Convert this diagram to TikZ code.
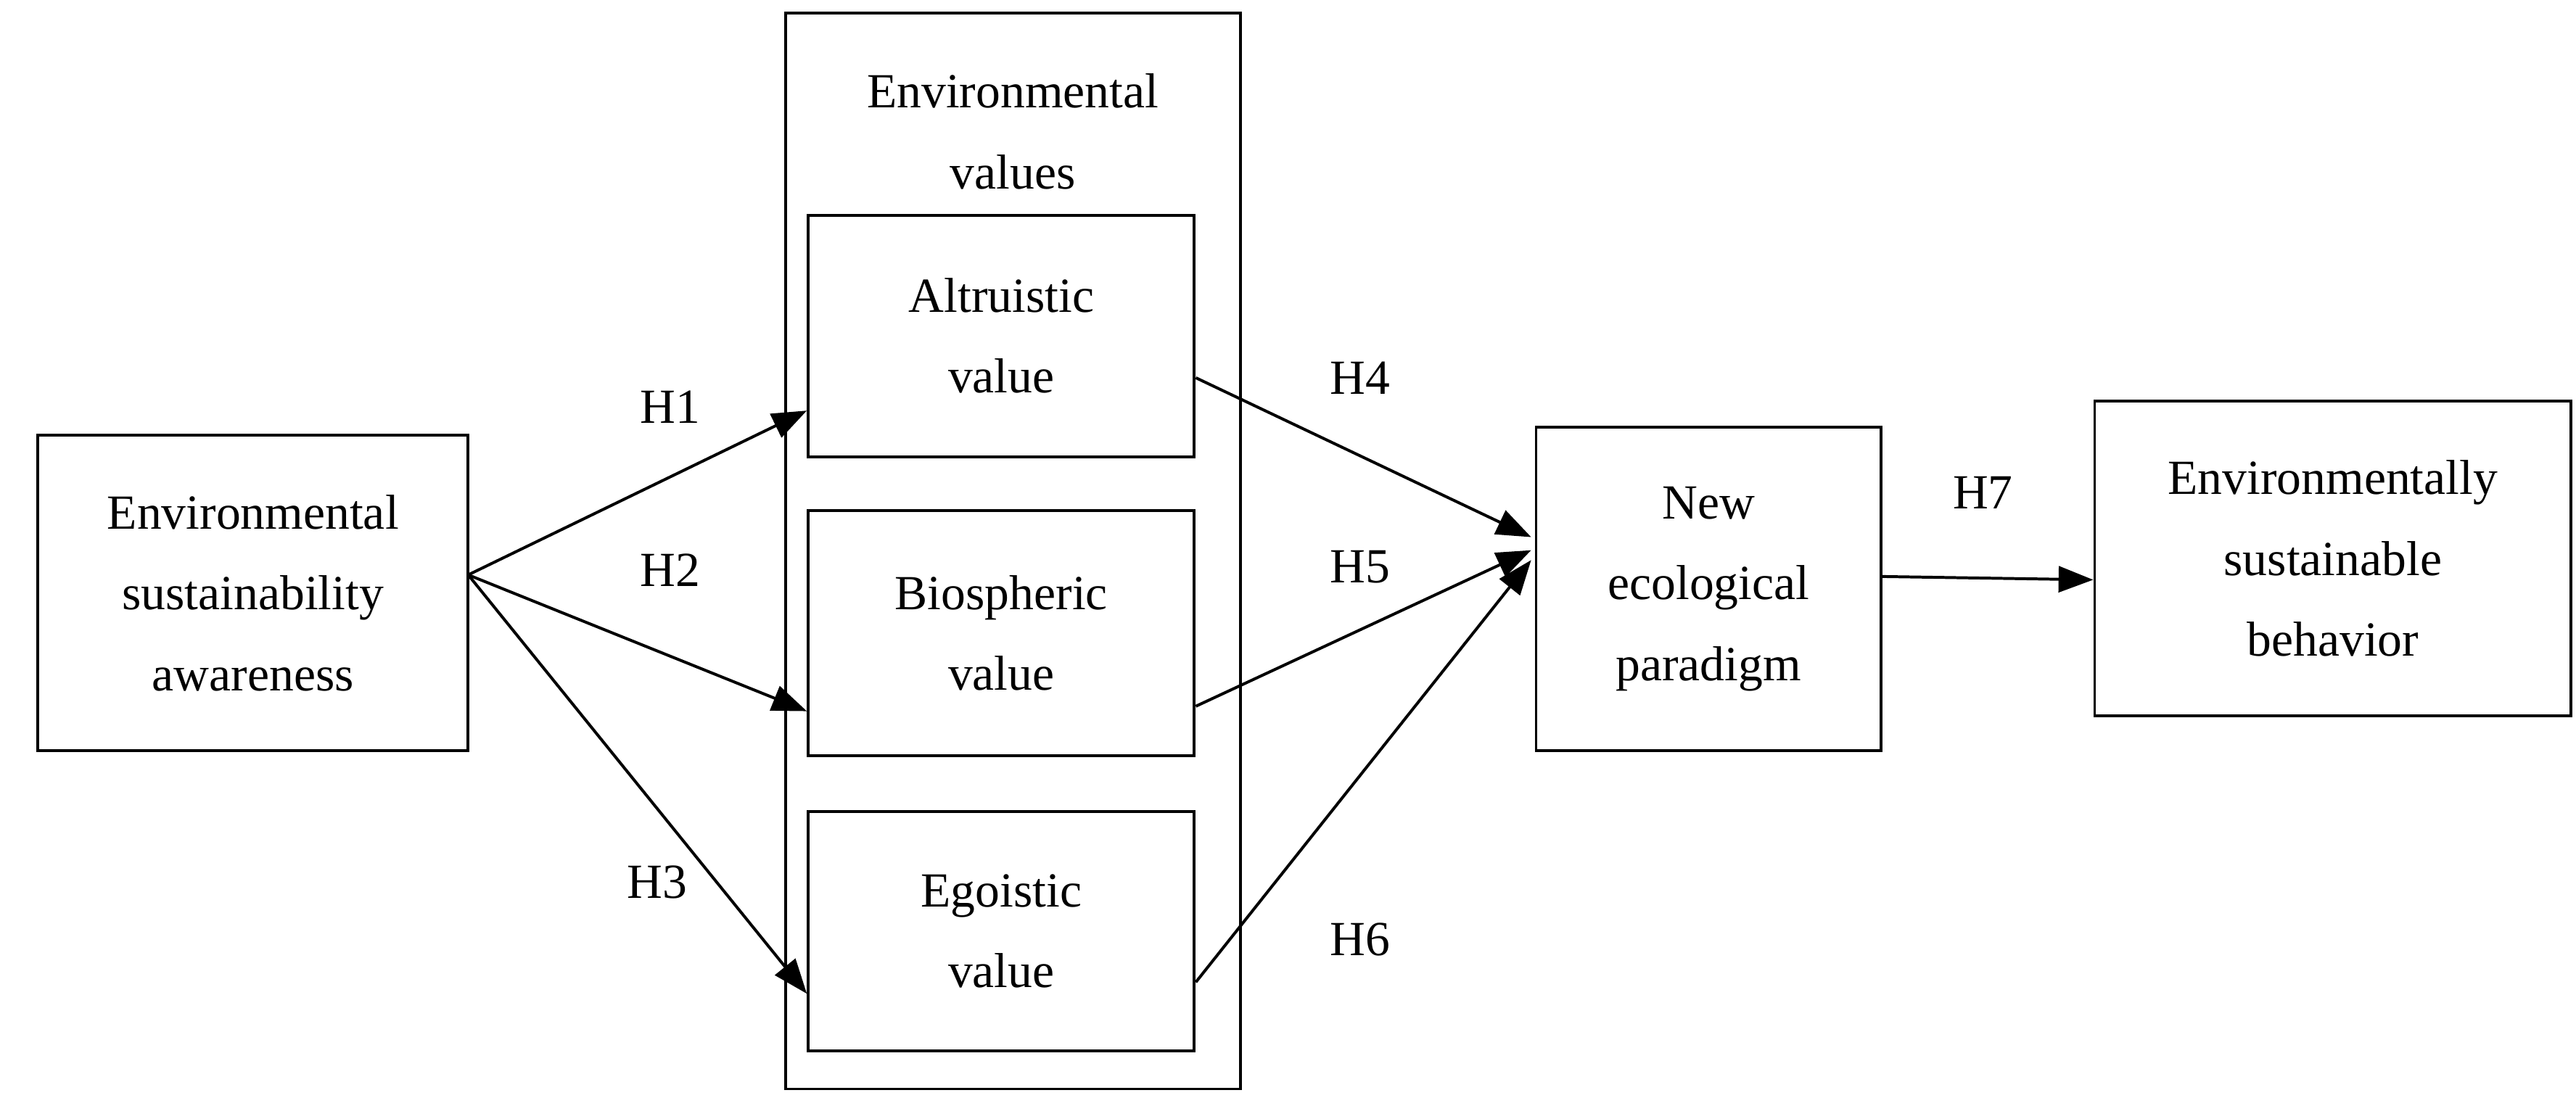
\documentclass[tikz,border=0pt]{standalone}
\usepackage{fontspec}
\setmainfont{Liberation Serif}
\usetikzlibrary{arrows.meta}
\begin{document}
\begin{tikzpicture}[x=0.02cm,y=-0.02cm,
  box/.style={draw,line width=1pt,inner sep=0pt,align=center,font=\fontsize{17}{28}\selectfont},
  lab/.style={font=\fontsize{17}{18}\selectfont},
  arr/.style={line width=1pt,-{Triangle[length=12pt,width=9pt]}}]
\useasboundingbox (0,0) rectangle (1568,673);
\draw[line width=1pt] (478,8) rectangle (755,663);
\node[lab] (ev) at (616.5,80) {\parbox{5cm}{\centering\fontsize{17}{28}\selectfont Environmental\\values}};
\node[box,minimum width=262*0.02cm,minimum height=192*0.02cm] (esa) at (154,361) {Environmental\\sustainability\\awareness};
\node[box,minimum width=235*0.02cm,minimum height=147*0.02cm] (alt) at (609.5,204.5) {Altruistic\\value};
\node[box,minimum width=235*0.02cm,minimum height=149*0.02cm] (bio) at (609.5,385.5) {Biospheric\\value};
\node[box,minimum width=235*0.02cm,minimum height=146*0.02cm] (ego) at (609.5,567) {Egoistic\\value};
\node[box,minimum width=210*0.02cm,minimum height=197*0.02cm] (nep) at (1040,358.5) {New\\ecological\\paradigm};
\node[box,minimum width=290*0.02cm,minimum height=192*0.02cm] (esb) at (1420,340) {Environmentally\\sustainable\\behavior};
\coordinate (s) at (285,350);
\draw[arr] (s) -- (alt.west |- 0,250);
\draw[arr] (s) -- (bio.west |- 0,433);
\draw[arr] (s) -- (ego.west |- 0,605);
\draw[arr] (alt.east |- 0,230) -- (932,327);
\draw[arr] (bio.east |- 0,430) -- (932,335);
\draw[arr] (ego.east |- 0,598) -- (932,341);
\draw[arr] (nep.east |- 0,351) -- (esb.west |- 0,353);
\node[lab] (h1) at (408,248) {H1};
\node[lab] (h2) at (408,347) {H2};
\node[lab] (h3) at (400,537) {H3};
\node[lab] (h4) at (828,230) {H4};
\node[lab] (h5) at (828,345) {H5};
\node[lab] (h6) at (828,572) {H6};
\node[lab] (h7) at (1207,300) {H7};
\end{tikzpicture}
\end{document}
